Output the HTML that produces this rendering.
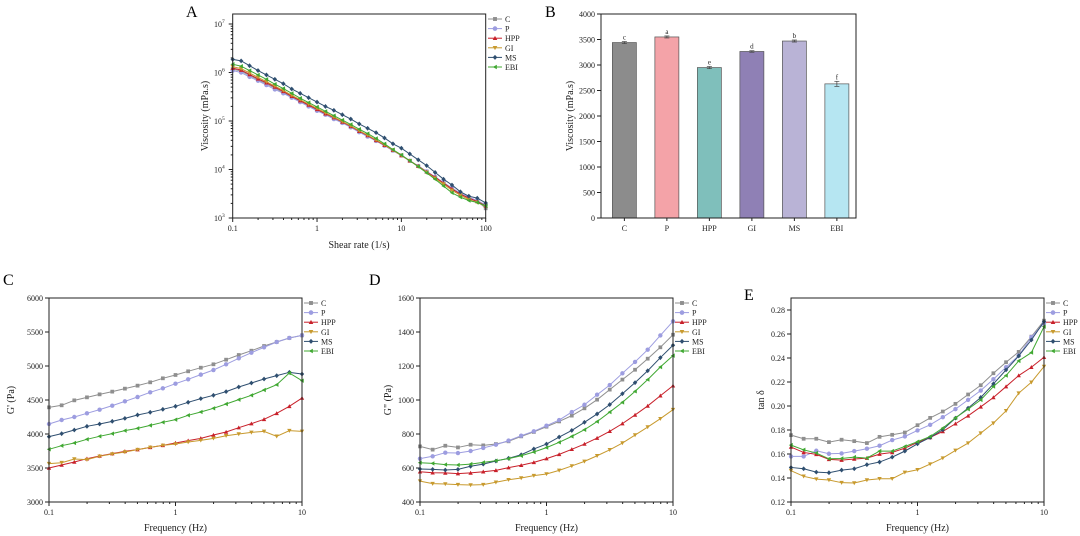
<!DOCTYPE html>
<html><head><meta charset="utf-8"><style>
html,body{margin:0;padding:0;background:#fff;}
svg{display:block;font-family:"Liberation Serif",serif;}
</style></head><body>
<svg id="chart" width="1080" height="536" viewBox="0 0 1080 536" xmlns="http://www.w3.org/2000/svg">
<text x="186" y="17" font-size="16">A</text>
<text x="545" y="17" font-size="16">B</text>
<text x="3" y="285" font-size="16">C</text>
<text x="369" y="285" font-size="16">D</text>
<text x="744" y="300" font-size="16">E</text>
</svg>
<script>
const seriesNames = ["C","P","HPP","GI","MS","EBI"];
const seriesColors = ["#8f8f8f","#9d9de0","#c8202a","#c89a2e","#2f4f70","#40a832"];
const seriesMarkers = ["square","circle","tri-up","tri-down","diamond","tri-left"];

// Panel A: log10 viscosity (mPa.s) vs log10 shear rate
const shearLog = [-1,-0.9,-0.8,-0.7,-0.6,-0.5,-0.4,-0.3,-0.2,-0.1,0,0.1,0.2,0.3,0.4,0.5,0.6,0.7,0.8,0.9,1,1.1,1.2,1.3,1.4,1.5,1.6,1.7,1.8,1.9,2];
const viscC   = [6.07,6.03,5.94,5.85,5.77,5.68,5.59,5.50,5.41,5.32,5.23,5.14,5.06,4.97,4.88,4.79,4.69,4.60,4.50,4.39,4.29,4.18,4.07,3.96,3.84,3.73,3.61,3.50,3.42,3.35,3.20];
const viscP   = [6.04,6.00,5.91,5.83,5.74,5.65,5.57,5.48,5.39,5.30,5.21,5.13,5.04,4.96,4.87,4.77,4.68,4.59,4.49,4.39,4.29,4.18,4.07,3.96,3.85,3.73,3.62,3.51,3.43,3.36,3.27];
const viscHPP = [6.09,6.05,5.96,5.87,5.79,5.70,5.61,5.51,5.42,5.33,5.24,5.15,5.07,4.98,4.89,4.79,4.70,4.60,4.50,4.40,4.29,4.18,4.07,3.95,3.84,3.72,3.60,3.49,3.41,3.34,3.25];
const viscGI  = [6.12,6.08,5.99,5.90,5.81,5.72,5.63,5.53,5.44,5.35,5.26,5.17,5.08,4.99,4.90,4.80,4.71,4.61,4.51,4.40,4.29,4.18,4.06,3.94,3.82,3.70,3.57,3.47,3.38,3.32,3.24];
const viscMS  = [6.27,6.24,6.14,6.04,5.95,5.86,5.77,5.66,5.57,5.48,5.39,5.30,5.22,5.13,5.04,4.94,4.85,4.76,4.65,4.53,4.44,4.32,4.20,4.08,3.94,3.80,3.68,3.54,3.45,3.41,3.31];
const viscEBI = [6.17,6.13,6.04,5.95,5.86,5.76,5.67,5.57,5.47,5.38,5.29,5.20,5.11,5.02,4.93,4.83,4.74,4.64,4.53,4.41,4.30,4.18,4.06,3.93,3.80,3.66,3.52,3.43,3.36,3.32,3.25];

// Panel B
const barCategories = ["C","P","HPP","GI","MS","EBI"];
const barValues = [3440,3550,2950,3265,3470,2630];
const barErrors = [20,20,20,15,20,50];
const barLetters = ["c","a","e","d","b","f"];
const barColors = ["#8c8c8c","#f4a3a8","#7fbfbb","#8f80b5","#b9b3d6","#b6e6f2"];
const barTicks = [0,500,1000,1500,2000,2500,3000,3500,4000];

// Frequency (log10 Hz)
const freqLog = [-1,-0.9,-0.8,-0.7,-0.6,-0.5,-0.4,-0.3,-0.2,-0.1,0,0.1,0.2,0.3,0.4,0.5,0.6,0.7,0.8,0.9,1];
// Panel C: G'
const gpC   = [4392,4422,4495,4539,4583,4623,4667,4711,4760,4819,4868,4922,4975,5025,5093,5162,5225,5294,5353,5412,5451];
const gpP   = [4147,4206,4250,4304,4358,4417,4480,4544,4613,4672,4740,4804,4873,4941,5025,5113,5196,5275,5353,5412,5451];
const gpHPP = [3500,3544,3588,3637,3676,3711,3745,3770,3804,3833,3868,3902,3936,3985,4029,4093,4152,4216,4304,4407,4529];
const gpGI  = [3564,3578,3632,3623,3672,3706,3735,3770,3804,3833,3853,3882,3907,3936,3975,4000,4024,4039,3966,4049,4039];
const gpMS  = [3961,4005,4059,4113,4147,4186,4230,4280,4319,4363,4407,4466,4520,4569,4623,4691,4750,4809,4858,4907,4882];
const gpEBI = [3775,3828,3868,3922,3966,4005,4049,4083,4127,4172,4211,4275,4324,4378,4441,4505,4569,4647,4725,4897,4784];
// Panel D: G''
const gppC   = [727,708,731,721,737,733,741,757,786,812,843,874,908,951,1002,1061,1120,1178,1243,1310,1384];
const gppP   = [655,669,690,688,700,718,737,761,790,816,849,882,929,972,1031,1088,1157,1224,1296,1380,1463];
const gppHPP = [578,572,571,567,571,578,586,602,616,633,655,680,710,741,776,816,861,912,965,1025,1084];
const gppGI  = [523,508,506,502,500,502,516,531,541,555,565,586,612,639,672,707,747,794,841,890,943];
const gppMS  = [594,592,588,592,610,623,641,657,678,712,741,782,821,869,918,973,1037,1102,1172,1249,1322];
const gppEBI = [631,627,620,618,623,633,643,655,672,694,720,751,786,825,873,929,986,1051,1120,1194,1261];
// Panel E: tan delta
const tdC   = [0.1757,0.1727,0.1727,0.1699,0.1719,0.1707,0.1691,0.1743,0.1760,0.1779,0.1840,0.1901,0.1954,0.2018,0.2096,0.2173,0.2273,0.2365,0.2451,0.2578,0.2711];
const tdP   = [0.1580,0.1580,0.1627,0.1602,0.1605,0.1624,0.1644,0.1669,0.1716,0.1746,0.1796,0.1843,0.1907,0.1974,0.2051,0.2129,0.2223,0.2323,0.2420,0.2573,0.2689];
const tdHPP = [0.1658,0.1613,0.1597,0.1555,0.1549,0.1558,0.1566,0.1599,0.1613,0.1649,0.1696,0.1738,0.1788,0.1852,0.1918,0.1993,0.2071,0.2162,0.2254,0.2323,0.2406];
const tdGI  = [0.1461,0.1414,0.1391,0.1383,0.1361,0.1358,0.1383,0.1394,0.1394,0.1447,0.1469,0.1516,0.1566,0.1630,0.1691,0.1774,0.1857,0.1960,0.2107,0.2198,0.2329];
const tdMS  = [0.1488,0.1477,0.1449,0.1444,0.1466,0.1477,0.1511,0.1533,0.1574,0.1624,0.1685,0.1738,0.1802,0.1899,0.1982,0.2071,0.2184,0.2301,0.2417,0.2550,0.2703];
const tdEBI = [0.1674,0.1635,0.1608,0.1560,0.1563,0.1574,0.1566,0.1624,0.1624,0.1663,0.1702,0.1746,0.1816,0.1901,0.1974,0.2051,0.2162,0.2254,0.2376,0.2445,0.2661];

const svg = document.getElementById('chart');
const NS = 'http://www.w3.org/2000/svg';
function mk(tag, attrs, parent){
  const e = document.createElementNS(NS, tag);
  for (const k in attrs) e.setAttribute(k, attrs[k]);
  (parent||svg).appendChild(e);
  return e;
}
function txt(x,y,s,size,anchor,parent){
  const t = mk('text',{x:x,y:y,'font-size':size,'text-anchor':anchor||'middle',fill:'#222'},parent);
  t.textContent = s;
  return t;
}
function marker(g,type,x,y,color,r){
  let e;
  if (type==='square') e = mk('rect',{x:x-r*0.85,y:y-r*0.85,width:r*1.7,height:r*1.7,fill:color},g);
  else if (type==='circle') e = mk('circle',{cx:x,cy:y,r:r,fill:color},g);
  else if (type==='tri-up') e = mk('polygon',{points:`${x},${y-r} ${x-r},${y+r*0.8} ${x+r},${y+r*0.8}`,fill:color},g);
  else if (type==='tri-down') e = mk('polygon',{points:`${x},${y+r} ${x-r},${y-r*0.8} ${x+r},${y-r*0.8}`,fill:color},g);
  else if (type==='diamond') e = mk('polygon',{points:`${x},${y-r*1.1} ${x+r},${y} ${x},${y+r*1.1} ${x-r},${y}`,fill:color},g);
  else e = mk('polygon',{points:`${x-r},${y} ${x+r*0.8},${y-r} ${x+r*0.8},${y+r}`,fill:color},g);
  return e;
}
function frame(name,L,R,T,B){
  const f = mk('rect',{x:L,y:T,width:R-L,height:B-T,fill:'none',stroke:'#222','stroke-width':1});
  
  
}
function legend(name,x,y){
  const g = mk('g',{});
  
  
  seriesNames.forEach((s,i)=>{
    const yy = y + i*9.6;
    const eg = mk('g',{},g);
    
    
    mk('line',{x1:x,y1:yy,x2:x+14,y2:yy,stroke:seriesColors[i],'stroke-width':1},eg);
    marker(eg,seriesMarkers[i],x+7,yy,seriesColors[i],2.3);
    txt(x+17,yy+3,s,8,'start',eg);
  });
}
function logXAxis(name,L,R,B,decMin,decMax,labels){
  const g = mk('g',{});
  
  
  const sx = v => L + (v-decMin)/(decMax-decMin)*(R-L);
  for (let d=decMin; d<=decMax; d++){
    mk('line',{x1:sx(d),y1:B,x2:sx(d),y2:B+4,stroke:'#222'},g);
    txt(sx(d),B+13,labels[d-decMin],8,'middle',g);
    if (d<decMax) for (let m=2;m<10;m++){
      const xx = sx(d+Math.log10(m));
      mk('line',{x1:xx,y1:B,x2:xx,y2:B+2,stroke:'#222'},g);
    }
  }
  return sx;
}
function linYAxis(name,L,T,B,min,max,ticks,fmt){
  const g = mk('g',{});
  
  
  const sy = v => B - (v-min)/(max-min)*(B-T);
  ticks.forEach(t=>{
    mk('line',{x1:L-4,y1:sy(t),x2:L,y2:sy(t),stroke:'#222'},g);
    txt(L-6,sy(t)+3,fmt(t),8,'end',g);
  });
  return sy;
}
function drawSeries(name,xs,sets,sx,sy){
  sets.forEach((vals,i)=>{
    const g = mk('g',{});
    
    
    const pts = vals.map((v,j)=>sx(xs[j])+','+sy(v)).join(' ');
    mk('polyline',{points:pts,fill:'none',stroke:seriesColors[i],'stroke-width':1},g);
    vals.forEach((v,j)=>marker(g,seriesMarkers[i],sx(xs[j]),sy(v),seriesColors[i],2.2));
  });
}
function ytitle(x,y,s,name){
  const t = txt(x,y,s,10,'middle');
  t.setAttribute('transform',`rotate(-90 ${x} ${y})`);
  
  
}
function xtitle(x,y,s,name){
  const t = txt(x,y,s,10,'middle');
  
  
}

// ---- Panel A ----
(function(){
  const L=232.7,R=485.7,T=14,B=218;
  const sx = logXAxis('panel-a',L,R,B,-1,2,["0.1","1","10","100"]);
  const dec = 48.5; const top7 = B - 4*dec;
  const sy = v => B - (v-3)*dec;
  const g = mk('g',{});
  
  
  for (let d=3; d<=7; d++){
    mk('line',{x1:L-4,y1:sy(d),x2:L,y2:sy(d),stroke:'#222'},g);
    const t = txt(L-8,sy(d)+3,'10',8,'end',g);
    const sup = mk('tspan',{dy:-4,'font-size':5.5},t); sup.textContent = String(d);
    if (d<7) for (let m=2;m<10;m++){
      const yy = sy(d+Math.log10(m));
      mk('line',{x1:L-2,y1:yy,x2:L,y2:yy,stroke:'#222'},g);
    }
  }
  drawSeries('panel-a',shearLog,[viscC,viscP,viscHPP,viscGI,viscMS,viscEBI],v=>sx(v),sy);
  frame('panel-a',L,R,T,B);
  legend('panel-a',488,19);
  ytitle(208,116,'Viscosity (mPa.s)','panel-a-y-title');
  xtitle(359,248,'Shear rate (1/s)','panel-a-x-title');
})();

// ---- Panel B ----
(function(){
  const L=601,R=856,T=14,B=218;
  const sy = linYAxis('panel-b',L,T,B,0,4000,barTicks,t=>String(t));
  const band = (R-L)/barCategories.length;
  const gx = mk('g',{});
  
  
  barCategories.forEach((c,i)=>{
    const cx = L + band*(i+0.55);
    const g = mk('g',{});
    
    
    mk('rect',{x:cx-12,y:sy(barValues[i]),width:24,height:B-sy(barValues[i]),fill:barColors[i],stroke:'#555','stroke-width':0.7},g);
    const e1 = sy(barValues[i]+barErrors[i]), e0 = sy(barValues[i]-barErrors[i]);
    mk('line',{x1:cx,y1:e1,x2:cx,y2:e0,stroke:'#444','stroke-width':0.7},g);
    mk('line',{x1:cx-2.5,y1:e1,x2:cx+2.5,y2:e1,stroke:'#444','stroke-width':0.7},g);
    mk('line',{x1:cx-2.5,y1:e0,x2:cx+2.5,y2:e0,stroke:'#444','stroke-width':0.7},g);
    txt(cx,e1-2,barLetters[i],7,'middle',g);
    mk('line',{x1:cx,y1:B,x2:cx,y2:B+3,stroke:'#222'},gx);
    txt(cx,B+13,c,8,'middle',gx);
  });
  frame('panel-b',L,R,T,B);
  ytitle(573,116,'Viscosity (mPa.s)','panel-b-y-title');
})();

// ---- Panels C, D, E ----
function freqPanel(name,L,R,T,B,min,max,ticks,fmt,sets,ylab,ylx){
  const sx = logXAxis(name,L,R,B,-1,1,["0.1","1","10"]);
  const sy = linYAxis(name,L,T,B,min,max,ticks,fmt);
  drawSeries(name,freqLog,sets,sx,sy);
  frame(name,L,R,T,B);
  legend(name,R+2,303);
  ytitle(ylx,(T+B)/2,ylab,name+'-y-title');
  xtitle((L+R)/2,531,'Frequency (Hz)',name+'-x-title');
}
freqPanel('panel-c',49,302,298,502,3000,6000,[3000,3500,4000,4500,5000,5500,6000],t=>String(t),
  [gpC,gpP,gpHPP,gpGI,gpMS,gpEBI],"G' (Pa)",14);
freqPanel('panel-d',420,673,298,502,400,1600,[400,600,800,1000,1200,1400,1600],t=>String(t),
  [gppC,gppP,gppHPP,gppGI,gppMS,gppEBI],'G" (Pa)',391);
freqPanel('panel-e',791,1044,298,502,0.12,0.12+0.16*204/192,[0.12,0.14,0.16,0.18,0.20,0.22,0.24,0.26,0.28],t=>t.toFixed(2),
  [tdC,tdP,tdHPP,tdGI,tdMS,tdEBI],'tan δ',764);
</script>
</body></html>
